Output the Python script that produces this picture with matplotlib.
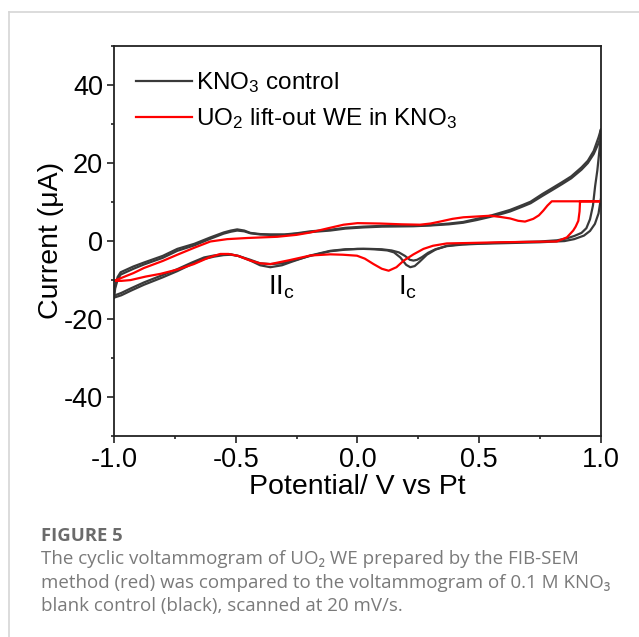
import numpy as np
import matplotlib
matplotlib.use("Agg")
import matplotlib.pyplot as plt
from matplotlib.lines import Line2D
from matplotlib.ticker import MultipleLocator

plt.rcParams['font.family'] = ['Liberation Sans', 'DejaVu Sans']
plt.rcParams['mathtext.fontset'] = 'custom'
plt.rcParams['mathtext.rm'] = 'Liberation Sans'
plt.rcParams['axes.unicode_minus'] = False

# KNO3 control, cycle 1 (anodic then cathodic sweep)
ctrl1_v = [-1.0, -0.995, -0.985, -0.973, -0.92, -0.877, -0.80, -0.74, -0.67, -0.604, -0.55, -0.52,
           -0.494, -0.465, -0.44, -0.40, -0.358, -0.30, -0.25, -0.194, -0.112, -0.05, 0.024, 0.10,
           0.229, 0.30, 0.376, 0.434, 0.49, 0.545, 0.60, 0.627, 0.68, 0.711, 0.76, 0.795, 0.84,
           0.878, 0.92, 0.946, 0.97, 0.99, 1.0,
           0.995, 0.985, 0.976, 0.967, 0.955, 0.94, 0.92, 0.89, 0.86, 0.82, 0.75, 0.627, 0.50,
           0.43, 0.367, 0.32, 0.285, 0.255, 0.235, 0.217, 0.20, 0.176, 0.15, 0.123, 0.07, 0.024,
           -0.05, -0.112, -0.194, -0.27, -0.31, -0.358, -0.40, -0.44, -0.49, -0.52, -0.55, -0.59,
           -0.63, -0.68, -0.74, -0.80, -0.877, -0.93, -0.97, -1.0]
ctrl1_i = [-14.0, -11.5, -9.3, -8.1, -6.6, -5.6, -3.9, -2.1, -0.8, 0.85, 2.1, 2.6,
           2.9, 2.6, 2.0, 1.7, 1.6, 1.6, 1.9, 2.4, 2.8, 3.3, 3.6, 3.8,
           3.85, 4.0, 4.4, 4.8, 5.6, 6.4, 7.4, 7.9, 9.2, 10.0, 12.0, 13.3, 15.0,
           16.5, 18.8, 20.5, 23.0, 26.5, 28.6,
           24.0, 18.0, 14.0, 9.0, 5.5, 3.2, 2.0, 1.2, 0.6, 0.1, -0.2, -0.4, -0.7,
           -0.9, -1.3, -2.3, -3.6, -5.4, -6.5, -6.8, -6.2, -4.3, -3.0, -2.5, -2.2, -2.1,
           -2.2, -2.6, -3.8, -5.4, -6.3, -6.8, -6.3, -5.1, -3.9, -3.5, -3.5, -3.8,
           -4.3, -5.6, -7.3, -8.8, -10.7, -12.2, -13.4, -14.1]

# KNO3 control, cycle 2
ctrl2_v = [-1.0, -0.995, -0.985, -0.973, -0.92, -0.877, -0.80, -0.74, -0.67, -0.604, -0.55, -0.52,
           -0.494, -0.465, -0.44, -0.40, -0.358, -0.30, -0.25, -0.194, -0.112, -0.05, 0.024, 0.10,
           0.229, 0.30, 0.376, 0.434, 0.49, 0.545, 0.60, 0.627, 0.68, 0.711, 0.76, 0.795, 0.84,
           0.878, 0.92, 0.946, 0.97, 0.99, 1.0,
           1.0, 0.99, 0.975, 0.955, 0.93, 0.89, 0.85, 0.75, 0.627, 0.50,
           0.43, 0.367, 0.32, 0.29, 0.265, 0.245, 0.23, 0.215, 0.195, 0.17, 0.14, 0.10, 0.05, 0.0,
           -0.05, -0.112, -0.194, -0.27, -0.31, -0.358, -0.40, -0.44, -0.49, -0.52, -0.55, -0.59,
           -0.63, -0.68, -0.74, -0.80, -0.877, -0.93, -0.97, -1.0]
ctrl2_i = [-14.6, -12.2, -10.0, -8.7, -7.2, -6.1, -4.4, -2.6, -1.2, 0.5, 1.8, 2.3,
           2.6, 2.4, 1.9, 1.6, 1.5, 1.5, 1.8, 2.2, 2.6, 3.1, 3.4, 3.6,
           3.7, 3.9, 4.2, 4.6, 5.3, 6.1, 7.0, 7.5, 8.8, 9.6, 11.5, 12.8, 14.5,
           16.0, 18.2, 19.9, 22.2, 25.0, 26.8,
           11.0, 7.0, 4.3, 2.5, 1.3, 0.4, -0.1, -0.4, -0.6, -0.8,
           -1.0, -1.4, -2.2, -3.1, -4.2, -4.9, -5.1, -4.9, -3.9, -3.0, -2.5, -2.2, -2.1, -2.1,
           -2.3, -2.7, -3.9, -5.2, -5.8, -6.0, -5.8, -4.9, -3.9, -3.6, -3.7, -4.1,
           -4.7, -6.0, -7.8, -9.4, -11.3, -12.8, -14.0, -14.6]

# UO2 lift-out WE in KNO3
uo2_v = [-1.0, -0.96, -0.92, -0.877, -0.80, -0.74, -0.67, -0.604, -0.535, -0.45, -0.33, -0.25,
         -0.194, -0.12, -0.057, 0.0, 0.094, 0.18, 0.257, 0.30, 0.339, 0.39, 0.435, 0.545, 0.586,
         0.627, 0.66, 0.688, 0.722, 0.745, 0.763, 0.78, 0.798, 1.0,
         0.914, 0.912, 0.907, 0.896, 0.886, 0.86, 0.818, 0.70, 0.586, 0.45, 0.367, 0.31, 0.271,
         0.23, 0.19, 0.16, 0.128, 0.10, 0.066, 0.03, -0.002, -0.06, -0.112, -0.194, -0.28,
         -0.358, -0.40, -0.44, -0.49, -0.53, -0.563, -0.61, -0.672, -0.74, -0.809, -0.87, -0.932,
         -0.97, -1.0]
uo2_i = [-10.3, -9.3, -8.3, -7.0, -5.2, -3.6, -1.8, -0.2, 0.4, 0.7, 1.0, 1.5,
         2.1, 3.2, 4.1, 4.5, 4.4, 4.2, 4.1, 4.4, 4.9, 5.6, 6.0, 6.4, 6.1,
         5.7, 5.1, 4.9, 5.6, 6.5, 7.7, 9.0, 10.1, 10.1,
         10.1, 7.5, 5.1, 3.6, 2.6, 0.85, -0.2, -0.3, -0.4, -0.6, -0.7, -1.3, -2.1,
         -3.5, -5.1, -6.8, -7.7, -7.2, -6.0, -4.6, -3.85, -3.6, -3.5, -3.8, -5.0,
         -6.0, -5.8, -5.1, -3.9, -3.4, -3.4, -4.3, -6.0, -7.4, -8.5, -9.2, -10.1,
         -10.3, -10.3]

fig = plt.figure(figsize=(6.39, 6.37), dpi=100)
ax = fig.add_axes([0.1784, 0.316, 0.7621, 0.6123])

ax.plot(ctrl2_v, ctrl2_i, color='#3a3a3a', lw=1.6)
ax.plot(ctrl1_v, ctrl1_i, color='#3a3a3a', lw=1.6, label=r'$\mathregular{KNO_3}$ control')
ax.plot(uo2_v, uo2_i, color='#ff0000', lw=1.6, label=r'$\mathregular{UO_2}$ lift-out WE in $\mathregular{KNO_3}$')

ax.set_xlim(-1.0, 1.0)
ax.set_ylim(-50, 50)
ax.set_xticks([-1.0, -0.5, 0.0, 0.5, 1.0])
ax.set_yticks([-40, -20, 0, 20, 40])
ax.xaxis.set_minor_locator(MultipleLocator(0.25))
ax.yaxis.set_minor_locator(MultipleLocator(10))
ax.tick_params(which='both', direction='out', top=False, right=False, colors='#222222', width=1.2)
ax.tick_params(which='major', length=5, labelsize=19.5, pad=3, labelcolor='black')
ax.tick_params(which='minor', length=2.5)
for s in ax.spines.values():
    s.set_color('#222222')
    s.set_linewidth(1.3)

ax.set_xlabel('Potential/ V vs Pt', fontsize=20.5, labelpad=1)
ax.set_ylabel('Current (μA)', fontsize=20.5, labelpad=0)

ax.text(-0.366, -13.6, r'II$_\mathregular{c}$', fontsize=20, va='baseline', ha='left')
ax.text(0.167, -13.6, r'I$_\mathregular{c}$', fontsize=20, va='baseline', ha='left')

ax.legend(loc='upper left', bbox_to_anchor=(0.045, 0.937), frameon=False, fontsize=17.5,
          handlelength=2.3, handletextpad=0.18, labelspacing=0.45, borderpad=0, borderaxespad=0)

# page frame
fig.add_artist(Line2D([0.0146, 1.0], [0.9812, 0.9812], transform=fig.transFigure, color='#d6d6d6', lw=1.2))
fig.add_artist(Line2D([0.0146, 0.0146], [0.0, 0.9812], transform=fig.transFigure, color='#d6d6d6', lw=1.2))

cap_font = ['Open Sans', 'DejaVu Sans']
fig.text(41 / 639, 1 - 541 / 637, 'FIGURE 5', fontsize=13.3, fontweight='bold', color='#6b6b6b',
         family=cap_font, va='baseline')
cap_lines = ['The cyclic voltammogram of UO₂ WE prepared by the FIB-SEM',
             'method (red) was compared to the voltammogram of 0.1 M KNO₃',
             'blank control (black), scanned at 20 mV/s.']
for k, line in enumerate(cap_lines):
    fig.text(41 / 639, 1 - (563.5 + 24 * k) / 637, line, fontsize=13.5, color='#7a7a7a',
             family=cap_font, va='baseline')

fig.savefig('out.png', dpi=100)
